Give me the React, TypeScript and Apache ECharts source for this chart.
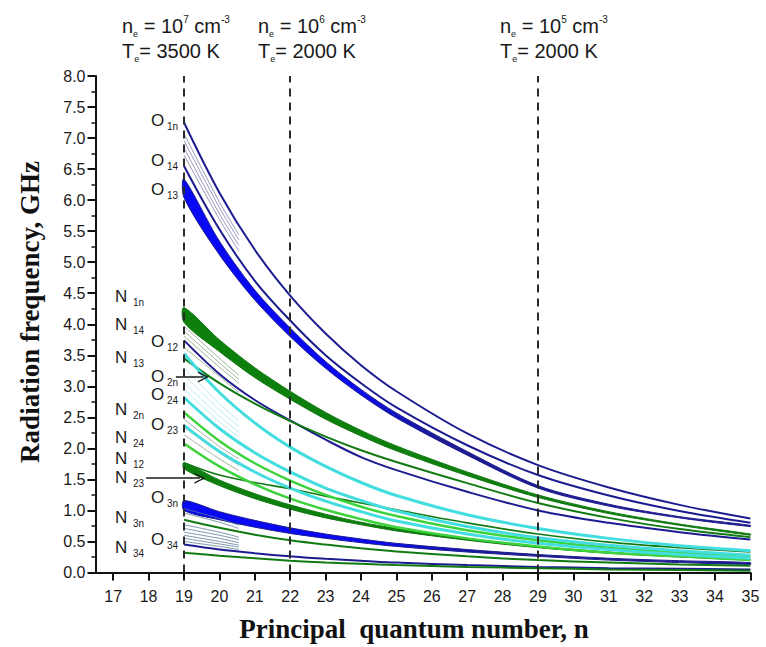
import React, { useEffect, useRef } from "react";
import * as echarts from "echarts";

// ---------------- data ----------------
const N = [19, 20, 21, 22, 23, 24, 25, 27, 29, 31, 33, 35];
const N_SHORT = [19, 20, 20.55];
const X_TICKS = [17, 18, 19, 20, 21, 22, 23, 24, 25, 26, 27, 28, 29, 30, 31, 32, 33, 34, 35];
const Y_TICKS = [0, 0.5, 1, 1.5, 2, 2.5, 3, 3.5, 4, 4.5, 5, 5.5, 6, 6.5, 7, 7.5, 8];
const DENSITY_N = [19, 22, 29];

// navy / blue curves
const O1n = [7.25, 6.12, 5.2, 4.46, 3.85, 3.34, 2.92, 2.24, 1.73, 1.37, 1.09, 0.87];
const O14 = [6.55, 5.53, 4.7, 4.06, 3.5, 3.05, 2.66, 2.05, 1.57, 1.24, 0.99, 0.8];
const O13_top = [6.34, 5.34, 4.55, 3.94, 3.4, 2.95, 2.57, 1.95, 1.4, 1.1, 0.9, 0.76];
const O13_bottom = [6.04, 5.12, 4.39, 3.8, 3.29, 2.86, 2.49, 1.89, 1.36, 1.07, 0.88, 0.74];
const O12 = [3.74, 3.2, 2.78, 2.45, 2.14, 1.86, 1.65, 1.3, 1.0, 0.8, 0.65, 0.53];
const O3n_top = [1.16, 0.98, 0.84, 0.72, 0.62, 0.54, 0.47, 0.37, 0.29, 0.23, 0.19, 0.16];
const O3n_bottom = [1.0, 0.85, 0.73, 0.63, 0.55, 0.48, 0.42, 0.33, 0.26, 0.2, 0.16, 0.13];
const O34 = [0.45, 0.37, 0.31, 0.26, 0.22, 0.19, 0.16, 0.12, 0.09, 0.07, 0.06, 0.05];
// cyan curves
const O2n = [3.53, 2.9, 2.41, 2.02, 1.71, 1.45, 1.24, 0.93, 0.71, 0.55, 0.43, 0.35];
const O24 = [2.82, 2.32, 1.93, 1.62, 1.36, 1.16, 0.99, 0.74, 0.56, 0.44, 0.35, 0.28];
const O23 = [2.37, 1.95, 1.62, 1.36, 1.15, 0.98, 0.83, 0.62, 0.47, 0.37, 0.29, 0.23];
// dark green curves
const N1n_top = [4.27, 3.75, 3.3, 2.92, 2.58, 2.29, 2.04, 1.62, 1.25, 0.98, 0.78, 0.62];
const N1n_bottom = [4.03, 3.56, 3.14, 2.79, 2.47, 2.2, 1.96, 1.56, 1.21, 0.95, 0.76, 0.6];
const N13 = [3.45, 3.05, 2.72, 2.44, 2.19, 1.97, 1.78, 1.44, 1.12, 0.88, 0.7, 0.57];
const N12_top = [1.77, 1.49, 1.27, 1.09, 0.94, 0.81, 0.71, 0.55, 0.42, 0.33, 0.26, 0.21];
const N12_bottom = [1.67, 1.4, 1.19, 1.02, 0.88, 0.77, 0.67, 0.52, 0.4, 0.31, 0.25, 0.2];
const N23 = [1.77, 1.57, 1.45, 1.35, 1.23, 1.12, 1.01, 0.8, 0.62, 0.49, 0.4, 0.33];
const N3n = [0.85, 0.72, 0.61, 0.52, 0.45, 0.39, 0.34, 0.26, 0.2, 0.16, 0.13, 0.11];
const N34 = [0.32, 0.27, 0.23, 0.19, 0.16, 0.14, 0.12, 0.09, 0.07, 0.05, 0.04, 0.03];
// light green curves
const N2n = [2.58, 2.12, 1.76, 1.48, 1.25, 1.06, 0.91, 0.68, 0.52, 0.4, 0.32, 0.25];
const N24 = [2.08, 1.71, 1.42, 1.19, 1.01, 0.86, 0.73, 0.55, 0.42, 0.32, 0.26, 0.2];

// short fine-structure lines (values at N_SHORT)
const FS_O1 = [[7.07, 5.97, 5.44], [6.96, 5.88, 5.36], [6.84, 5.78, 5.27], [6.73, 5.69, 5.18]];
const FS_N1 = [[3.97, 3.45, 3.18], [3.89, 3.38, 3.11], [3.81, 3.31, 3.05], [3.63, 3.16, 2.9]];
const FS_O2 = [[3.3, 2.72, 2.44], [3.18, 2.62, 2.35], [3.06, 2.52, 2.26], [2.95, 2.43, 2.18]];
const FS_N2 = [[2.47, 2.03, 1.83], [2.34, 1.93, 1.73], [2.22, 1.83, 1.64]];
const FS_O3 = [[1.03, 0.87, 0.76], [0.96, 0.81, 0.71], [0.77, 0.65, 0.57], [0.71, 0.6, 0.53], [0.65, 0.55, 0.48], [0.6, 0.5, 0.44], [0.55, 0.46, 0.41], [0.5, 0.42, 0.37]];

// arrows: [n start, n end, value]
const ARROWS = [[18.77, 19.55, 3.15], [17.93, 19.45, 1.52]];

// curve labels
const LABEL_TEXT = [
  ["O", "1n"], ["O", "14"], ["O", "13"], ["N", "1n"], ["N", "14"], ["O", "12"],
  ["N", "13"], ["O", "2n"], ["O", "24"], ["N", "2n"], ["O", "23"], ["N", "24"],
  ["N", "12"], ["N", "23"], ["O", "3n"], ["N", "3n"], ["O", "34"], ["N", "34"],
];
const LABEL_Y = [120, 160, 189, 296, 324, 341, 357, 376, 394, 409, 424, 437, 458, 477, 497, 517, 539, 547];

const ANNOT = [
  { x: 122, exp: "7", T: "3500" },
  { x: 258, exp: "6", T: "2000" },
  { x: 500, exp: "5", T: "2000" },
];

// ---------------- styles ----------------
const NAVY = "#1c1c90";
const BLUE = "#0808f5";
const DGREEN = "#127a12";
const BGREEN = "#0d7f0d";
const LGREEN = "#3cd23c";
const CYAN = "#43dde0";
const SANS = "'Liberation Sans', Arial, sans-serif";
const SERIF = "'Liberation Serif', 'Times New Roman', serif";

const pts = (vals: number[]) => vals.map((v, i) => [N[i], v]);
const shortPts = (vals: number[]) => vals.map((v, i) => [N_SHORT[i], v]);

function line(vals: number[], color: string, width: number) {
  return {
    type: "line",
    data: pts(vals),
    symbol: "none",
    showSymbol: false,
    smooth: 0.35,
    silent: true,
    lineStyle: { color, width },
  };
}

function band(top: number[], bottom: number[], fill: any, edge: string) {
  return {
    type: "custom",
    silent: true,
    data: [[27, 4]],
    renderItem: (_params: any, api: any) => {
      const up = top.map((v, i) => api.coord([N[i], v]));
      const lo = bottom.map((v, i) => api.coord([N[i], v])).reverse();
      return {
        type: "polygon",
        shape: { points: up.concat(lo), smooth: 0.3 },
        style: { fill, stroke: edge, lineWidth: 1 },
      };
    },
  };
}

const blueFade = (start: number, end: number) => ({
  type: "linear",
  x: 0,
  y: 0,
  x2: 1,
  y2: 0,
  colorStops: [
    { offset: 0, color: BLUE },
    { offset: start, color: BLUE },
    { offset: end, color: NAVY },
    { offset: 1, color: NAVY },
  ],
});

function shortGroup(group: number[][], color: string) {
  return group.map((vals) => ({
    type: "line",
    data: shortPts(vals),
    symbol: "none",
    smooth: 0.3,
    silent: true,
    lineStyle: { color, width: 0.8 },
  }));
}

const RICH = {
  m: { fontSize: 20, fontFamily: SANS, fill: "#1a1a1a", lineHeight: 24 },
  sb: { fontSize: 9, fontFamily: SANS, fill: "#1a1a1a", verticalAlign: "bottom" },
  sp: { fontSize: 10, fontFamily: SANS, fill: "#1a1a1a", verticalAlign: "top" },
};

export default function App() {
  const ref = useRef<HTMLDivElement>(null);

  useEffect(() => {
    if (!ref.current) return;
    const chart = echarts.init(ref.current, null, { renderer: "svg" });

    const series: any[] = [
      {
        type: "line",
        data: [],
        silent: true,
        markLine: {
          silent: true,
          symbol: ["none", "none"],
          label: { show: false },
          lineStyle: { type: [8, 6], color: "#2b2b2b", width: 2 },
          data: DENSITY_N.map((n) => ({ xAxis: n })),
        },
      },
      band(O13_top, O13_bottom, blueFade(0.3, 0.45), NAVY),
      band(N1n_top, N1n_bottom, BGREEN, DGREEN),
      band(N12_top, N12_bottom, BGREEN, DGREEN),
      band(O3n_top, O3n_bottom, blueFade(0.35, 0.55), NAVY),
      ...shortGroup(FS_O1, "#7c7caa"),
      ...shortGroup(FS_N1, "#7f9f7f"),
      ...shortGroup(FS_O2, "#a9e6ea"),
      ...shortGroup(FS_N2, "#8c9c8c"),
      ...shortGroup(FS_O3, "#5c7c98"),
      line(O1n, NAVY, 2),
      line(O14, NAVY, 2),
      line(O12, NAVY, 2),
      line(O34, NAVY, 2),
      line(N13, DGREEN, 2),
      line(N23, DGREEN, 1.6),
      line(N3n, DGREEN, 2),
      line(N34, DGREEN, 2),
      line(N2n, LGREEN, 2.5),
      line(N24, LGREEN, 2.5),
      line(O2n, CYAN, 3),
      line(O24, CYAN, 3),
      line(O23, CYAN, 3),
      {
        type: "line",
        data: [],
        silent: true,
        markLine: {
          silent: true,
          symbol: ["none", "path://M0,10 L5,0 L10,10 L8.6,10 L5,2.8 L1.4,10 Z"],
          symbolSize: 11,
          label: { show: false },
          lineStyle: { type: "solid", color: "#1a1a1a", width: 1.5 },
          data: ARROWS.map(([a, b, v]) => [{ coord: [a, v] }, { coord: [b, v] }]),
        },
      },
    ];

    const graphic: any[] = [
      {
        type: "text",
        x: 30,
        y: 312,
        rotation: Math.PI / 2,
        style: {
          text: "Radiation frequency, GHz",
          font: `bold 27px ${SERIF}`,
          fill: "#111",
          align: "center",
          verticalAlign: "middle",
        },
      },
      {
        type: "text",
        x: 414,
        y: 629,
        style: {
          text: "Principal\u00a0 quantum number, n",
          font: `bold 27px ${SERIF}`,
          fill: "#111",
          align: "center",
          verticalAlign: "middle",
        },
      },
    ];
    ANNOT.forEach((a) => {
      graphic.push({
        type: "text",
        x: a.x,
        y: 26,
        style: { text: `{m|n}{sb|e}{m| = 10}{sp|${a.exp}}{m| cm}{sp|-3}`, rich: RICH, align: "left", verticalAlign: "middle" },
      });
      graphic.push({
        type: "text",
        x: a.x,
        y: 51,
        style: { text: `{m|T}{sb|e}{m|= ${a.T} K}`, rich: RICH, align: "left", verticalAlign: "middle" },
      });
    });
    LABEL_TEXT.forEach(([letter, sub], i) => {
      const lx = letter === "N" ? 115 : 151;
      const cy = LABEL_Y[i];
      graphic.push({
        type: "text",
        x: lx,
        y: cy,
        style: { text: letter, fontSize: 17, fontFamily: SANS, fill: "#1a1a1a", lineHeight: 16, align: "left", verticalAlign: "middle" },
      });
      graphic.push({
        type: "text",
        x: lx + (letter === "N" ? 18 : 16),
        y: cy + 6,
        style: { text: sub, fontSize: 10, fontFamily: SANS, fill: "#1a1a1a", lineHeight: 10, align: "left", verticalAlign: "middle" },
      });
    });

    chart.setOption({
      animation: false,
      backgroundColor: "#ffffff",
      grid: { left: 95.5, right: 15.6, top: 76, bottom: 74.5, outerBoundsMode: "none" },
      xAxis: {
        type: "value",
        min: X_TICKS[0] - 0.5,
        max: X_TICKS[X_TICKS.length - 1],
        splitNumber: X_TICKS.length - 1,
        axisLine: { show: true, onZero: false, lineStyle: { color: "#111", width: 2 } },
        axisTick: { show: true, inside: false, length: 8, lineStyle: { color: "#111", width: 2 } },
        axisLabel: { show: true, color: "#1a1a1a", fontSize: 16, fontFamily: SANS, margin: 16, showMinLabel: false },
        splitLine: { show: false },
      },
      yAxis: {
        type: "value",
        min: Y_TICKS[0],
        max: Y_TICKS[Y_TICKS.length - 1],
        interval: 0.5,
        axisLine: { show: true, lineStyle: { color: "#111", width: 2 } },
        axisTick: { show: true, inside: false, length: 8, lineStyle: { color: "#111", width: 2 } },
        minorTick: { show: true, splitNumber: 2, length: 4, lineStyle: { color: "#111", width: 1.5 } },
        axisLabel: { color: "#1a1a1a", fontSize: 16, fontFamily: SANS, margin: 10, formatter: (v: number) => v.toFixed(1) },
        splitLine: { show: false },
        minorSplitLine: { show: false },
      },
      series,
      graphic,
    });

    return () => chart.dispose();
  }, []);

  return <div ref={ref} style={{ position: "absolute", left: 0, top: 0, width: 766, height: 647 }} />;
}
